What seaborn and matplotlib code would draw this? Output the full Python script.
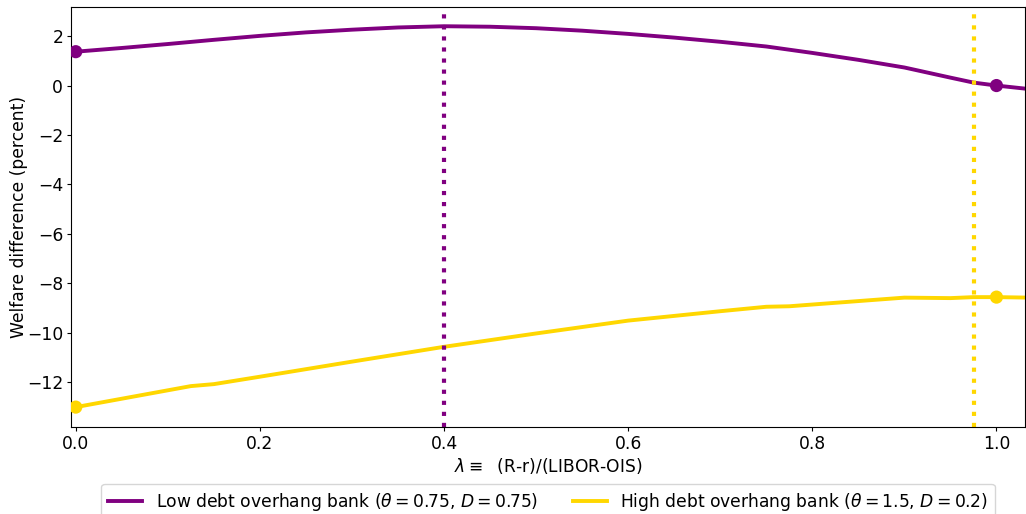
import matplotlib
matplotlib.use("Agg")
import matplotlib.pyplot as plt
import numpy as np
import pandas as pd
import seaborn as sns

# ! Values
lam_low = [0.0, 0.05, 0.1, 0.15, 0.2, 0.25, 0.3, 0.35, 0.4, 0.45, 0.5, 0.55,
           0.6, 0.65, 0.7, 0.75, 0.8, 0.85, 0.9, 0.95, 0.975, 1.0, 1.035]
welfare_low = [1.37, 1.52, 1.68, 1.85, 2.01, 2.15, 2.26, 2.35, 2.40, 2.38, 2.32, 2.22,
               2.09, 1.94, 1.77, 1.58, 1.32, 1.04, 0.73, 0.32, 0.12, 0.0, -0.14]

lam_high = [0.0, 0.125, 0.15, 0.2, 0.3, 0.4, 0.5, 0.6, 0.7, 0.75, 0.775,
            0.9, 0.95, 0.975, 1.0, 1.035]
welfare_high = [-13.01, -12.16, -12.08, -11.78, -11.17, -10.57, -10.03, -9.51, -9.13,
                -8.95, -8.93, -8.58, -8.60, -8.56, -8.56, -8.58]

opt_low = 0.4
opt_high = 0.976
label_low = r"Low debt overhang bank ($\theta = 0.75$, $D = 0.75$)"
label_high = r"High debt overhang bank ($\theta = 1.5$, $D = 0.2$)"

df = pd.concat([
    pd.DataFrame({"lam": lam_low, "welfare": welfare_low, "bank": label_low}),
    pd.DataFrame({"lam": lam_high, "welfare": welfare_high, "bank": label_high}),
])
palette = {label_low: "purple", label_high: "gold"}

matplotlib.rcParams.update({"font.size": 12.3})
fig = plt.figure(figsize=(10.26, 5.14), dpi=100)
ax = fig.add_axes([0.069, 0.169, 0.9305, 0.817])

sns.lineplot(data=df, x="lam", y="welfare", hue="bank", palette=palette,
             linewidth=2.8, ax=ax, sort=True)

# endpoints (lambda = 0 and lambda = 1)
for lam, w, lab in [(lam_low, welfare_low, label_low), (lam_high, welfare_high, label_high)]:
    pts = pd.DataFrame({"lam": [lam[0], 1.0], "welfare": [w[0], w[lam.index(1.0)]]})
    sns.scatterplot(data=pts, x="lam", y="welfare", color=palette[lab], s=90,
                    edgecolor="none", ax=ax, zorder=5, legend=False)

ax.axvline(opt_low, color="purple", linestyle=":", linewidth=3)
ax.axvline(opt_high, color="gold", linestyle=":", linewidth=3)

ax.set_xlim(-0.0054, 1.0315)
ax.set_ylim(-13.82, 3.17)
ax.set_xticks([0.0, 0.2, 0.4, 0.6, 0.8, 1.0])
ax.set_yticks([-12, -10, -8, -6, -4, -2, 0, 2])
ax.tick_params(length=3, pad=2.5)
ax.set_xlabel(r"$\lambda \equiv$  (R-r)/(LIBOR-OIS)", labelpad=2)
ax.set_ylabel("Welfare difference (percent)", labelpad=-1)

handles, labels = ax.get_legend_handles_labels()
ax.legend(handles, labels, loc="upper center", bbox_to_anchor=(0.5, -0.115),
          ncol=2, frameon=True, fontsize=12.3, columnspacing=2.0)

plt.savefig("out.png", dpi=100)
